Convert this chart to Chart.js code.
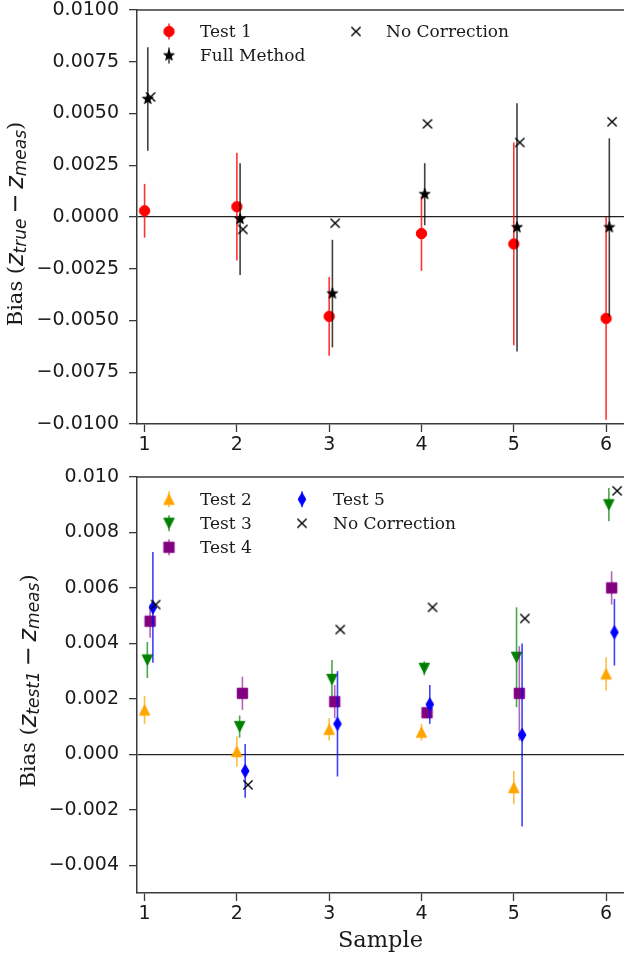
<!DOCTYPE html>
<html>
<head>
<meta charset="utf-8">
<script src="https://cdn.jsdelivr.net/npm/chart.js@4.4.1/dist/chart.umd.min.js"></script>
<style>
  html, body { margin: 0; padding: 0; background: #fff; }
  #wrap { position: relative; width: 624px; height: 959px; overflow: hidden; }
  canvas { position: absolute; left: 0; }
  #topChart { top: 0; }
  #bottomChart { top: 460px; }
</style>
</head>
<body>
<div id="wrap">
  <canvas id="topChart" width="624" height="460"></canvas>
  <canvas id="bottomChart" width="624" height="499"></canvas>
</div>
<script>
// data
const samples = [1, 2, 3, 4, 5, 6];
const xTicks = [1, 2, 3, 4, 5, 6];
const topYTicks = [-0.01, -0.0075, -0.005, -0.0025, 0, 0.0025, 0.005, 0.0075, 0.01];
const bottomYTicks = [-0.004, -0.002, 0, 0.002, 0.004, 0.006, 0.008, 0.01];

// top panel: bias vs truth
const test1Bias = [0.0003, 0.0005, -0.0048, -0.0008, -0.0013, -0.0049];
const test1Err = [0.0013, 0.0026, 0.0019, 0.0018, 0.0049, 0.0049];
const fullBias = [0.0057, -0.0001, -0.0037, 0.0011, -0.0005, -0.0005];
const fullErr = [0.0025, 0.0027, 0.0026, 0.0015, 0.0060, 0.0043];
const noCorrTop = [0.0058, -0.0006, -0.0003, 0.0045, 0.0036, 0.0046];

// bottom panel: bias vs test 1
const test2Bias = [0.0016, 0.0001, 0.0009, 0.0008, -0.0012, 0.0029];
const test2Err = [0.0005, 0.00055, 0.0004, 0.0003, 0.0006, 0.0006];
const test3Bias = [0.0034, 0.0010, 0.0027, 0.0031, 0.0035, 0.0090];
const test3Err = [0.00065, 0.0004, 0.0007, 0.00025, 0.0018, 0.0006];
const test4Bias = [0.0048, 0.0022, 0.0019, 0.0015, 0.0022, 0.0060];
const test4Err = [0.0006, 0.0006, 0.0006, 0.0002, 0.0017, 0.0006];
const test5Bias = [0.0053, -0.0006, 0.0011, 0.0018, 0.0007, 0.0044];
const test5Err = [0.0020, 0.00097, 0.0019, 0.0007, 0.0033, 0.0012];
const noCorrBottom = [0.0054, -0.0011, 0.0045, 0.0053, 0.0049, 0.0095];

// small x shifts so the series don't sit on top of each other
const topShift = [0, 0.035, 0.065];
const bottomShift = [0, 0.03, 0.06, 0.09, 0.12];

const SERIF = '"DejaVu Serif", serif';
const SANS = '"DejaVu Sans", sans-serif';
const INK = '#1a1a1a';
const SPINE = '#3a3a3a';

// Marker images (matplotlib style markers)
function makeMarker(kind, color, r) {
    const s = Math.ceil(2 * r + 4);
    const c = document.createElement('canvas');
    c.width = s; c.height = s;
    const g = c.getContext('2d');
    g.translate(s / 2, s / 2);
    g.fillStyle = color;
    g.strokeStyle = color;
    g.lineWidth = 1;
    g.beginPath();
    if (kind === 'circle') {
        g.arc(0, 0, r, 0, Math.PI * 2);
    } else if (kind === 'square') {
        g.rect(-r, -r, 2 * r, 2 * r);
    } else if (kind === 'triUp') {
        g.moveTo(0, -r); g.lineTo(r, r); g.lineTo(-r, r); g.closePath();
    } else if (kind === 'triDown') {
        g.moveTo(0, r); g.lineTo(r, -r); g.lineTo(-r, -r); g.closePath();
    } else if (kind === 'thinDiamond') {
        g.moveTo(0, -r); g.lineTo(0.58 * r, 0); g.lineTo(0, r); g.lineTo(-0.58 * r, 0); g.closePath();
    } else if (kind === 'star') {
        for (let k = 0; k < 10; k++) {
            const rr = k % 2 ? r * 0.4 : r;
            const a = -Math.PI / 2 + k * Math.PI / 5;
            g.lineTo(rr * Math.cos(a), rr * Math.sin(a));
        }
        g.closePath();
    } else if (kind === 'x') {
        g.moveTo(-r, -r); g.lineTo(r, r);
        g.moveTo(r, -r); g.lineTo(-r, r);
        g.lineWidth = 1.4;
        g.stroke();
        return c;
    }
    g.fill();
    g.stroke();
    return c;
}

const markers = {
    test1: makeMarker('circle', '#ff0000', 5.2),
    full: makeMarker('star', '#000000', 5.6),
    noCorr: makeMarker('x', '#000000', 4.6),
    test2: makeMarker('triUp', '#ffa500', 5.2),
    test3: makeMarker('triDown', '#008000', 5.2),
    test4: makeMarker('square', '#800080', 5.2),
    test5: makeMarker('thinDiamond', '#0000ff', 6.6)
};

function points(values, shift) {
    return samples.map((s, i) => ({ x: s + shift, y: values[i] }));
}

function series(label, values, shift, marker, errors, errorColor, order) {
    return {
        label: label,
        data: points(values, shift),
        errors: errors,
        errorColor: errorColor,
        pointStyle: marker,
        pointRadius: 6,
        showLine: false,
        order: order
    };
}

// error bars drawn right before each dataset's markers
const errorBars = {
    id: 'errorBars',
    beforeDatasetDraw(chart, args) {
        const ds = chart.data.datasets[args.index];
        if (!ds.errors) return;
        const { ctx, chartArea, scales: { x, y } } = chart;
        ctx.save();
        ctx.beginPath();
        ctx.rect(chartArea.left, chartArea.top, chartArea.right - chartArea.left, chartArea.bottom - chartArea.top);
        ctx.clip();
        ctx.strokeStyle = ds.errorColor;
        ctx.lineWidth = 1.6;
        ds.data.forEach((p, i) => {
            const px = x.getPixelForValue(p.x);
            ctx.beginPath();
            ctx.moveTo(px, y.getPixelForValue(p.y + ds.errors[i]));
            ctx.lineTo(px, y.getPixelForValue(p.y - ds.errors[i]));
            ctx.stroke();
        });
        ctx.restore();
    }
};

// top spine, legend and the math y title
const decor = {
    id: 'decor',
    afterDraw(chart, args, opts) {
        const { ctx, chartArea } = chart;
        ctx.save();
        ctx.strokeStyle = SPINE;
        ctx.lineWidth = 1.5;
        ctx.beginPath();
        ctx.moveTo(chartArea.left, chartArea.top);
        ctx.lineTo(chartArea.right, chartArea.top);
        ctx.stroke();

        // legend
        ctx.font = '17px ' + SERIF;
        ctx.fillStyle = INK;
        ctx.textBaseline = 'middle';
        opts.legend.forEach(item => {
            if (item.errorColor) {
                ctx.strokeStyle = item.errorColor;
                ctx.lineWidth = 1.6;
                ctx.beginPath();
                ctx.moveTo(item.x, item.y - 8);
                ctx.lineTo(item.x, item.y + 8);
                ctx.stroke();
            }
            const m = item.marker;
            ctx.drawImage(m, item.x - m.width / 2, item.y - m.height / 2);
            ctx.fillText(item.label, item.x + item.textGap, item.y + 1);
        });

        // y title with subscripts
        const parts = opts.title;
        let total = 0;
        parts.forEach(p => { ctx.font = p.font; p.w = ctx.measureText(p.text).width; total += p.w; });
        const cy = (chartArea.top + chartArea.bottom) / 2 + opts.titleShift;
        ctx.translate(opts.titleX, cy);
        ctx.rotate(-Math.PI / 2);
        ctx.textBaseline = 'middle';
        ctx.fillStyle = INK;
        let cx = -total / 2;
        parts.forEach(p => {
            ctx.font = p.font;
            ctx.fillText(p.text, cx, p.dy);
            cx += p.w;
        });
        ctx.restore();
    }
};

function mathTitle(sub1) {
    return [
        { text: 'Bias (', font: '21px ' + SERIF, dy: 0 },
        { text: 'z', font: 'italic 24px ' + SANS, dy: 0 },
        { text: sub1, font: 'italic 17px ' + SANS, dy: 5 },
        { text: '\u2009\u2212\u2009', font: '24px ' + SANS, dy: 0 },
        { text: 'z', font: 'italic 24px ' + SANS, dy: 0 },
        { text: 'meas', font: 'italic 17px ' + SANS, dy: 5 },
        { text: ')', font: '21px ' + SERIF, dy: 0 }
    ];
}

function baseOptions(yMin, yMax, yTicks, digits, xHeight, showXTitle) {
    return {
        responsive: false,
        animation: false,
        events: [],
        layout: { autoPadding: false, padding: { top: 0, left: 0, right: 0, bottom: 0 } },
        plugins: { legend: { display: false }, tooltip: { enabled: false } },
        scales: {
            x: {
                type: 'linear',
                min: 0.918,
                max: 6.194,
                afterBuildTicks: scale => { scale.ticks = xTicks.map(v => ({ value: v })); },
                afterFit: scale => {
                    scale.height = xHeight;
                    scale.paddingLeft = 0;
                    scale.paddingRight = 0;
                },
                border: { color: SPINE, width: 1.5 },
                grid: { drawOnChartArea: false, tickColor: SPINE, tickLength: 8, tickWidth: 1.3 },
                ticks: { color: INK, font: { family: SANS, size: 19 }, padding: 2, autoSkip: false, maxRotation: 0 },
                title: {
                    display: showXTitle,
                    text: 'Sample',
                    color: INK,
                    font: { family: SERIF, size: 22.5 },
                    padding: { top: 0, bottom: 4 }
                }
            },
            y: {
                min: yMin,
                max: yMax,
                afterBuildTicks: scale => { scale.ticks = yTicks.map(v => ({ value: v })); },
                afterFit: scale => {
                    scale.width = 137;
                    scale.paddingTop = 0;
                    scale.paddingBottom = 0;
                },
                border: { color: SPINE, width: 1.5 },
                grid: {
                    color: ctx => (ctx.tick && Math.abs(ctx.tick.value) < 1e-9) ? '#222' : 'rgba(0,0,0,0)',
                    lineWidth: 1.3,
                    tickColor: SPINE,
                    tickLength: 8,
                    tickWidth: 1.3
                },
                ticks: {
                    color: INK,
                    font: { family: SANS, size: 19, lineHeight: 1 },
                    padding: 10,
                    autoSkip: false,
                    callback: v => v.toFixed(digits).replace('-', '\u2212')
                }
            }
        }
    };
}

// top panel
const topOptions = baseOptions(-0.01, 0.01, topYTicks, 4, 36, false);
topOptions.layout.padding.top = 10;
topOptions.plugins.decor = {
    legend: [
        { label: 'Test 1', marker: markers.test1, errorColor: 'rgba(255,0,0,0.8)', x: 169, y: 31.5, textGap: 31 },
        { label: 'Full Method', marker: markers.full, errorColor: 'rgba(0,0,0,0.75)', x: 169, y: 55.5, textGap: 31 },
        { label: 'No Correction', marker: markers.noCorr, x: 356, y: 31.5, textGap: 30 }
    ],
    title: mathTitle('true'),
    titleX: 17,
    titleShift: 7
};

new Chart(document.getElementById('topChart'), {
    type: 'scatter',
    data: {
        datasets: [
            series('Test 1', test1Bias, topShift[0], markers.test1, test1Err, 'rgba(255,0,0,0.8)', 3),
            series('Full Method', fullBias, topShift[1], markers.full, fullErr, 'rgba(0,0,0,0.75)', 2),
            series('No Correction', noCorrTop, topShift[2], markers.noCorr, null, null, 1)
        ]
    },
    options: topOptions,
    plugins: [errorBars, decor]
});

// bottom panel
const bottomOptions = baseOptions(-0.005, 0.01, bottomYTicks, 3, 66, true);
bottomOptions.layout.padding.top = 17;
bottomOptions.plugins.decor = {
    legend: [
        { label: 'Test 2', marker: markers.test2, errorColor: 'rgba(255,165,0,0.75)', x: 169, y: 39.3, textGap: 31 },
        { label: 'Test 3', marker: markers.test3, errorColor: 'rgba(0,128,0,0.7)', x: 169, y: 63.3, textGap: 31 },
        { label: 'Test 4', marker: markers.test4, errorColor: 'rgba(128,0,128,0.6)', x: 169, y: 87.3, textGap: 31 },
        { label: 'Test 5', marker: markers.test5, errorColor: 'rgba(0,0,255,0.75)', x: 302, y: 39.3, textGap: 31 },
        { label: 'No Correction', marker: markers.noCorr, x: 302, y: 63.3, textGap: 31 }
    ],
    title: mathTitle('test1'),
    titleX: 30,
    titleShift: -4
};

new Chart(document.getElementById('bottomChart'), {
    type: 'scatter',
    data: {
        datasets: [
            series('Test 2', test2Bias, bottomShift[0], markers.test2, test2Err, 'rgba(255,165,0,0.75)', 5),
            series('Test 3', test3Bias, bottomShift[1], markers.test3, test3Err, 'rgba(0,128,0,0.7)', 4),
            series('Test 4', test4Bias, bottomShift[2], markers.test4, test4Err, 'rgba(128,0,128,0.6)', 3),
            series('Test 5', test5Bias, bottomShift[3], markers.test5, test5Err, 'rgba(0,0,255,0.75)', 2),
            series('No Correction', noCorrBottom, bottomShift[4], markers.noCorr, null, null, 1)
        ]
    },
    options: bottomOptions,
    plugins: [errorBars, decor]
});
</script>
</body>
</html>
